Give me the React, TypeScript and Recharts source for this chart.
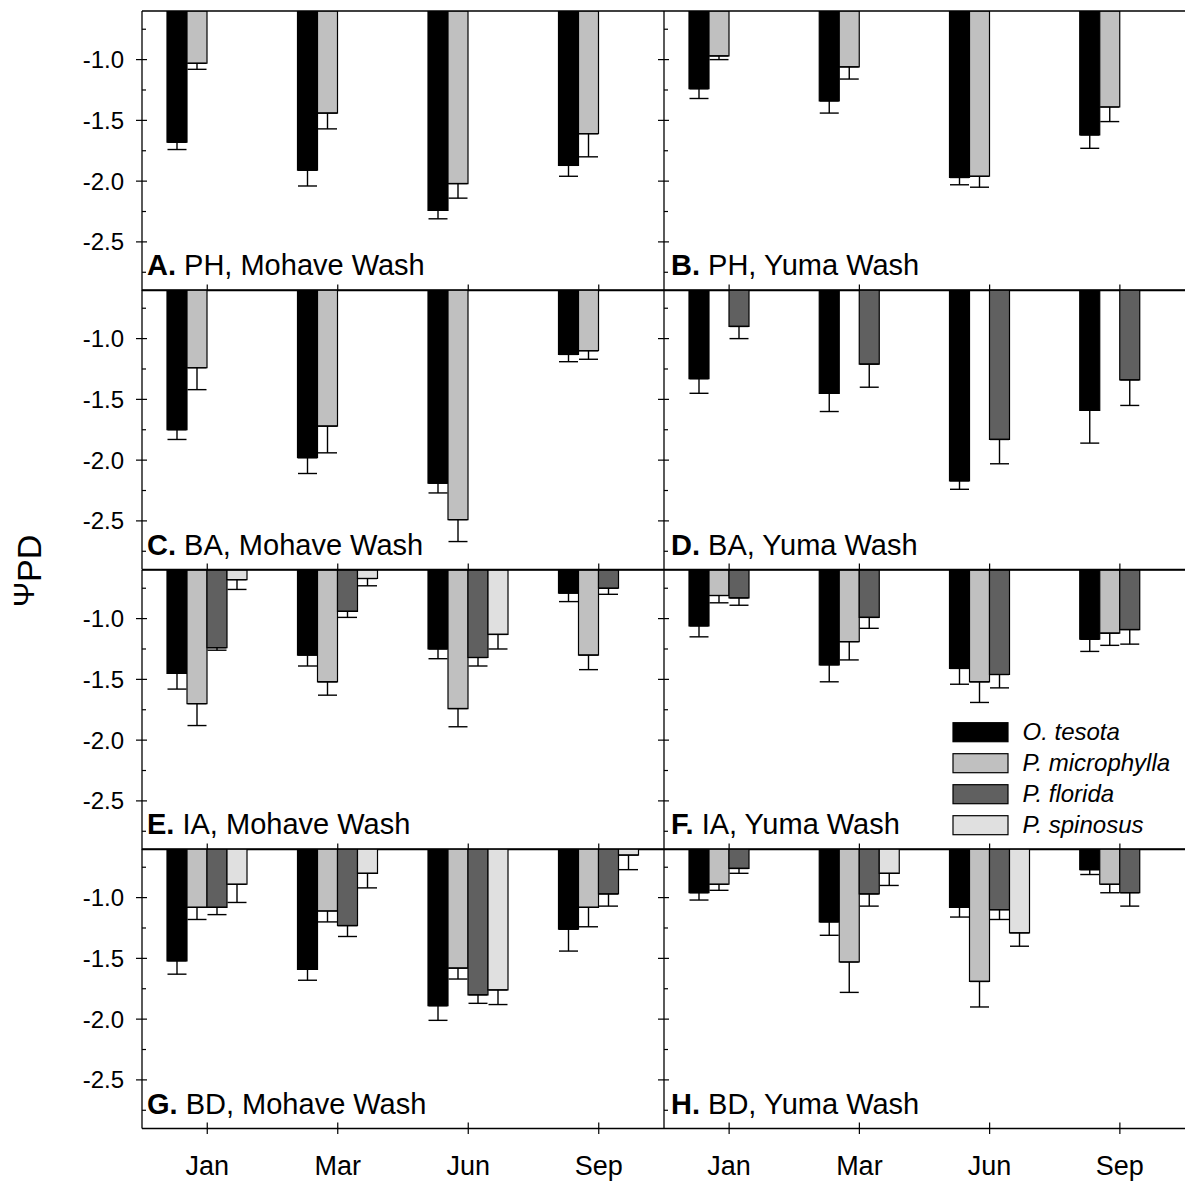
import React from 'react';
import { BarChart, Bar, XAxis, YAxis, ErrorBar, ReferenceLine } from 'recharts';

// ---------- data ----------
const months = ['Jan', 'Mar', 'Jun', 'Sep'];
const speciesNames = ['O. tesota', 'P. microphylla', 'P. florida', 'P. spinosus'];
const speciesKeys = ['ot', 'pm', 'pf', 'ps'];
const speciesColors = ['#000000', '#c0c0c0', '#606060', '#e0e0e0'];
const yTicks = [-0.75, -1.0, -1.25, -1.5, -1.75, -2.0, -2.25, -2.5, -2.75];
const yDomain: [number, number] = [-2.9, -0.6];

// means per species (ot, pm, pf, ps), one value per month
const aMeans = [[-1.68, -1.91, -2.24, -1.87], [-1.03, -1.44, -2.02, -1.61], null, null];
const aErrs = [[0.06, 0.13, 0.07, 0.09], [0.05, 0.13, 0.12, 0.19], null, null];

const bMeans = [[-1.24, -1.34, -1.97, -1.62], [-0.97, -1.06, -1.96, -1.39], null, null];
const bErrs = [[0.08, 0.1, 0.06, 0.11], [0.03, 0.1, 0.09, 0.12], null, null];

const cMeans = [[-1.75, -1.98, -2.19, -1.13], [-1.24, -1.72, -2.49, -1.1], null, null];
const cErrs = [[0.08, 0.13, 0.08, 0.06], [0.18, 0.22, 0.18, 0.07], null, null];

const dMeans = [[-1.33, -1.45, -2.17, -1.59], null, [-0.9, -1.21, -1.83, -1.34], null];
const dErrs = [[0.12, 0.15, 0.07, 0.27], null, [0.1, 0.19, 0.2, 0.21], null];

const eMeans = [[-1.45, -1.3, -1.25, -0.79], [-1.7, -1.52, -1.74, -1.3], [-1.24, -0.94, -1.32, -0.75], [-0.68, -0.67, -1.13, null]];
const eErrs = [[0.13, 0.09, 0.08, 0.07], [0.18, 0.11, 0.15, 0.12], [0.02, 0.05, 0.07, 0.05], [0.08, 0.06, 0.12, null]];

const fMeans = [[-1.06, -1.38, -1.41, -1.17], [-0.81, -1.19, -1.52, -1.12], [-0.83, -0.99, -1.46, -1.09], null];
const fErrs = [[0.09, 0.14, 0.13, 0.1], [0.06, 0.15, 0.17, 0.1], [0.06, 0.09, 0.11, 0.12], null];

const gMeans = [[-1.52, -1.59, -1.89, -1.26], [-1.08, -1.11, -1.58, -1.08], [-1.08, -1.23, -1.8, -0.97], [-0.89, -0.8, -1.76, -0.65]];
const gErrs = [[0.11, 0.09, 0.12, 0.18], [0.1, 0.09, 0.09, 0.16], [0.06, 0.09, 0.07, 0.1], [0.15, 0.12, 0.12, 0.12]];

const hMeans = [[-0.96, -1.2, -1.08, -0.77], [-0.89, -1.53, -1.69, -0.89], [-0.76, -0.97, -1.1, -0.96], [null, -0.8, -1.29, null]];
const hErrs = [[0.06, 0.11, 0.08, 0.04], [0.05, 0.25, 0.21, 0.07], [0.04, 0.1, 0.08, 0.11], [null, 0.1, 0.11, null]];

const panelLetters = ['A.', 'B.', 'C.', 'D.', 'E.', 'F.', 'G.', 'H.'];
const panelTitles = [
  'PH, Mohave Wash', 'PH, Yuma Wash',
  'BA, Mohave Wash', 'BA, Yuma Wash',
  'IA, Mohave Wash', 'IA, Yuma Wash',
  'BD, Mohave Wash', 'BD, Yuma Wash',
];
const panelMeans = [aMeans, bMeans, cMeans, dMeans, eMeans, fMeans, gMeans, hMeans];
const panelErrs = [aErrs, bErrs, cErrs, dErrs, eErrs, fErrs, gErrs, hErrs];

// ---------- layout ----------
const FONT = '"Liberation Sans", Arial, Helvetica, sans-serif';
const TOP0 = 10.5;
const PANEL_H = 279.5;
const LEFT_X = 142;
const MID_X = 664;
const RIGHT_X = 1185;
const MARGIN_TOP = 10;
const XAXIS_H = 60;

function buildRows(means: any[], errs: any[]) {
  return months.map((m, i) => {
    const row: any = { month: m };
    speciesKeys.forEach((k, s) => {
      const v = means[s] ? means[s][i] : null;
      const e = errs[s] ? errs[s][i] : null;
      row[k] = v;
      row[k + 'E'] = v == null || e == null ? null : [e, 0];
    });
    return row;
  });
}

const isMajor = (v: number) => Math.abs(v * 2 - Math.round(v * 2)) < 1e-6;

const LeftTick = (props: any) => {
  const { x, y, payload, showLabel } = props;
  const v = payload.value;
  const major = isMajor(v);
  return (
    <g>
      {major ? (
        <line x1={x - 6} x2={x + 5} y1={y} y2={y} stroke="#000" strokeWidth={1.2} />
      ) : (
        <line x1={x} x2={x + 4} y1={y} y2={y} stroke="#000" strokeWidth={1.2} />
      )}
      {major && showLabel ? (
        <text x={x - 18} y={y} textAnchor="end" dominantBaseline="central" fontSize={24} fontFamily={FONT} fill="#000">
          {v.toFixed(1)}
        </text>
      ) : null}
    </g>
  );
};

const RightTick = (props: any) => {
  const { x, y, payload } = props;
  const major = isMajor(payload.value);
  return major ? (
    <line x1={x - 5} x2={x + 6} y1={y} y2={y} stroke="#000" strokeWidth={1.2} />
  ) : (
    <line x1={x - 4} x2={x} y1={y} y2={y} stroke="#000" strokeWidth={1.2} />
  );
};

const BottomTick = (props: any) => {
  const { x, y, payload, last } = props;
  return (
    <g>
      <line x1={x} x2={x} y1={y - 6} y2={last ? y + 5.5 : y} stroke="#000" strokeWidth={1.2} />
      {last ? (
        <text x={x} y={y + 46.5} textAnchor="middle" fontSize={27} fontFamily={FONT} fill="#000">
          {payload.value}
        </text>
      ) : null}
    </g>
  );
};

function Panel({ index }: { index: number }) {
  const col = index % 2;
  const row = Math.floor(index / 2);
  const data = buildRows(panelMeans[index], panelErrs[index]);
  const yAxisW = col === 0 ? LEFT_X : 20;
  const left = col === 0 ? 0 : MID_X - 20;
  const width = col === 0 ? MID_X : RIGHT_X - left;
  const top = TOP0 + row * PANEL_H - MARGIN_TOP;
  const height = MARGIN_TOP + PANEL_H + XAXIS_H;
  const last = row === 3;
  return (
    <div style={{ position: 'absolute', left, top, width, height }}>
      <BarChart
        width={width}
        height={height}
        data={data}
        margin={{ top: MARGIN_TOP, right: 0, bottom: 0, left: 0 }}
        barCategoryGap={25}
        barGap={0}
      >
        <XAxis
          dataKey="month"
          height={XAXIS_H}
          interval={0}
          tickSize={0}
          tickMargin={0}
          axisLine={{ stroke: '#000', strokeWidth: 1.3 }}
          tickLine={false}
          tick={(p: any) => <BottomTick {...p} last={last} />}
        />
        <YAxis
          type="number"
          domain={yDomain}
          allowDataOverflow
          ticks={yTicks}
          interval={0}
          width={yAxisW}
          tickSize={0}
          tickMargin={0}
          tickLine={false}
          axisLine={{ stroke: '#000', strokeWidth: 1.3 }}
          tick={(p: any) => <LeftTick {...p} showLabel={col === 0} />}
        />
        <YAxis
          yAxisId="r"
          orientation="right"
          type="number"
          domain={yDomain}
          allowDataOverflow
          ticks={yTicks}
          interval={0}
          width={0}
          tickSize={0}
          tickMargin={0}
          tickLine={false}
          axisLine={{ stroke: '#000', strokeWidth: 1.3 }}
          tick={(p: any) => <RightTick {...p} />}
        />
        <ReferenceLine y={-0.6} stroke="#000" strokeWidth={1.3} />
        {speciesKeys.map((k, s) => (
          <Bar
            key={k}
            dataKey={k}
            name={speciesNames[s]}
            fill={speciesColors[s]}
            stroke="#000"
            strokeWidth={1.2}
            isAnimationActive={false}
          >
            <ErrorBar dataKey={k + 'E'} direction="y" width={9.5} stroke="#000" strokeWidth={1.4} />
          </Bar>
        ))}
      </BarChart>
    </div>
  );
}

function Overlay() {
  return (
    <svg
      width={1185}
      height={1182}
      style={{ position: 'absolute', left: 0, top: 0, pointerEvents: 'none' }}
    >
      {panelTitles.map((t, i) => {
        const col = i % 2;
        const row = Math.floor(i / 2);
        const x = col === 0 ? LEFT_X + 5 : MID_X + 7;
        const y = TOP0 + (row + 1) * PANEL_H - 15;
        return (
          <text key={i} x={x} y={y} fontSize={29} fontFamily={FONT} fill="#000">
            <tspan fontWeight="bold">{panelLetters[i]}</tspan>
            <tspan> {t}</tspan>
          </text>
        );
      })}
      {speciesNames.map((n, s) => (
        <g key={n}>
          <rect x={953} y={722.7 + 31 * s} width={55} height={19} fill={speciesColors[s]} stroke="#000" strokeWidth={1.2} />
          <text x={1022.5} y={740 + 31 * s} fontSize={24} fontStyle="italic" fontFamily={FONT} fill="#000">
            {n}
          </text>
        </g>
      ))}
      <text transform="translate(34,607) rotate(-90)" fontFamily={FONT} fill="#000">
        <tspan fontSize={30}>Ψ</tspan>
        <tspan fontSize={34} dy={7}>PD</tspan>
      </text>
    </svg>
  );
}

export default function App() {
  return (
    <div
      style={{
        position: 'absolute',
        left: 0,
        top: 0,
        width: 1185,
        height: 1182,
        overflow: 'hidden',
        background: '#fff',
      }}
    >
      {panelTitles.map((_, i) => (
        <Panel key={i} index={i} />
      ))}
      <Overlay />
    </div>
  );
}
